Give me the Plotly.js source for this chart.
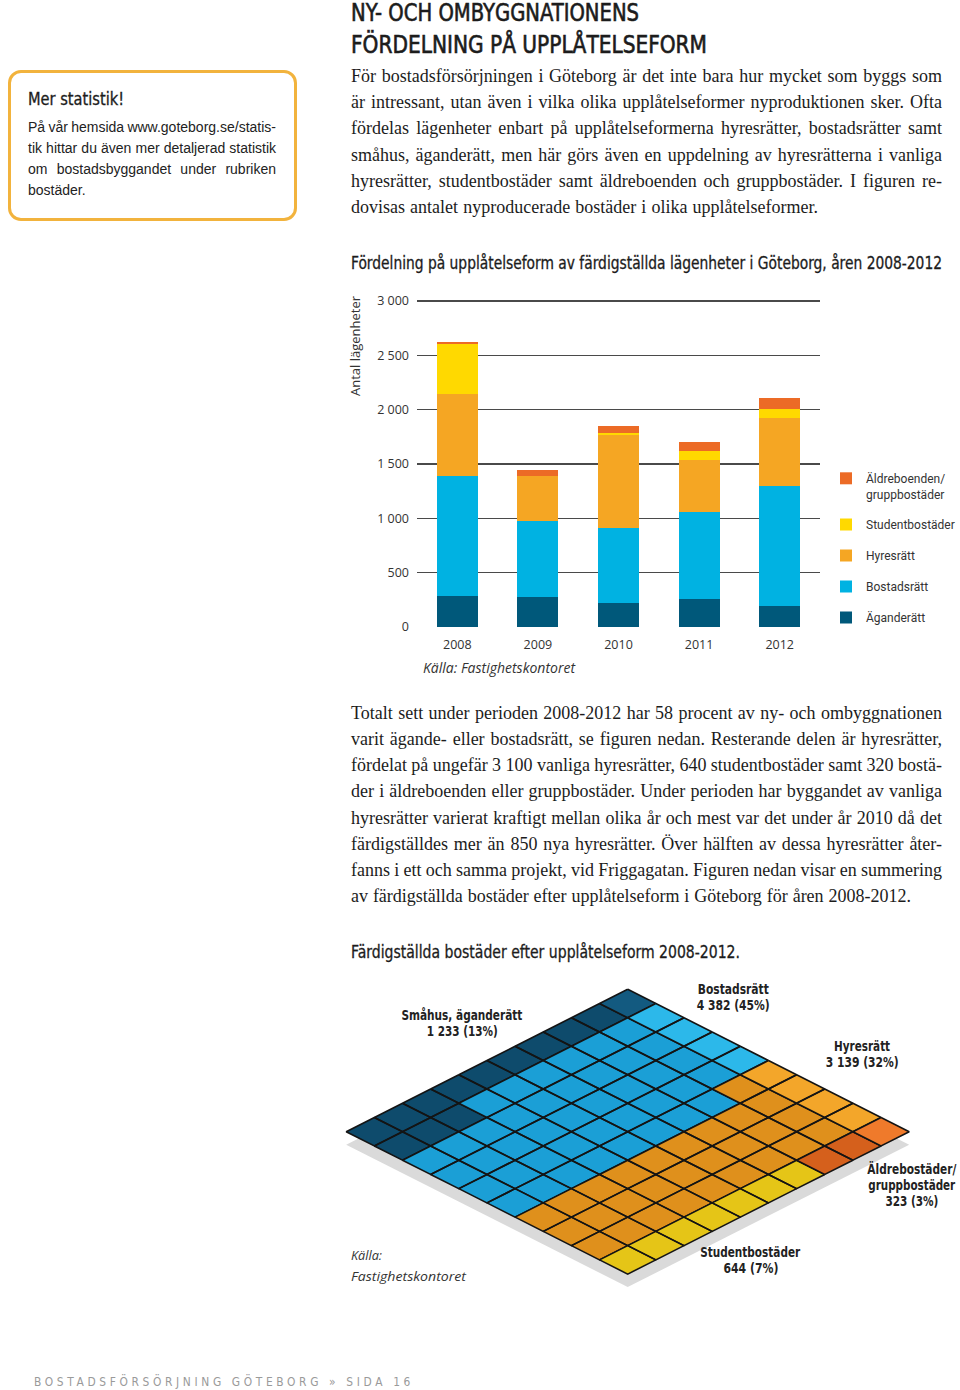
<!DOCTYPE html>
<html><head><meta charset="utf-8">
<script src="https://cdn.plot.ly/plotly-3.0.1.min.js"></script>
<style>
body{margin:0;background:#fff;}
#page{position:relative;width:960px;height:1390px;overflow:hidden;background:#fff;}
#chart{position:absolute;left:0;top:0;width:960px;height:1390px;}
.ln{position:absolute;white-space:nowrap;color:#1c1c1c;}
.serif{font-family:"Liberation Serif","DejaVu Serif",serif;font-size:18px;}
.cond{font-family:"Liberation Sans Narrow","DejaVu Sans Condensed","Roboto Condensed",Roboto,sans-serif;}
.sans{font-family:"Liberation Sans",Arial,sans-serif;font-size:13.5px;}
.ital{font-family:"Open Sans","Noto Sans",sans-serif;font-style:italic;font-size:13.5px;color:#333;}
#box{position:absolute;left:8px;top:70px;width:283px;height:145px;border:3px solid #f2b33d;border-radius:13px;}
</style></head>
<body><div id="page"><div id="chart"></div><div id="box"></div></div>
<script>
// ---------------- data ----------------
const years = ['2008', '2009', '2010', '2011', '2012'];
const aganderatt = [283, 277, 222, 262, 194];
const bostadsratt = [1103, 696, 690, 794, 1103];
const hyresratt = [755, 413, 853, 484, 625];
const studentbostader = [468, 0, 22, 77, 86];
const aldreboenden = [18, 55, 61, 86, 102];
const seriesNames = ['Äganderätt', 'Bostadsrätt', 'Hyresrätt', 'Studentbostäder', 'Äldreboenden/<br>gruppbostäder'];
const barColors = ['#00587a', '#00b2e2', '#f5a623', '#ffd900', '#ec6b26'];

const wafNames = ['Småhus, äganderätt', 'Bostadsrätt', 'Hyresrätt', 'Studentbostäder', 'Äldrebostäder/|gruppbostäder'];
const wafCounts = [1233, 4382, 3139, 644, 323];
const wafPercent = [13, 45, 32, 7, 3];
const wafColors = ['#0e4b6c', '#1b9fd6', '#df901c', '#e5c517', '#d5601c'];
const wafLight = ['#135a80', '#2cb8ea', '#f3a62a', '#f0d11d', '#ef7a2b'];

// ---------------- text ----------------
const heading = ['NY- OCH OMBYGGNATIONENS', 'FÖRDELNING PÅ UPPLÅTELSEFORM'];
const para1 = [
 'För bostadsförsörjningen i Göteborg är det inte bara hur mycket som byggs som',
 'är intressant, utan även i vilka olika upplåtelseformer nyproduktionen sker. Ofta',
 'fördelas lägenheter enbart på upplåtelseformerna hyresrätter, bostadsrätter samt',
 'småhus, äganderätt, men här görs även en uppdelning av hyresrätterna i vanliga',
 'hyresrätter, studentbostäder samt äldreboenden och gruppbostäder. I figuren re-',
 'dovisas antalet nyproducerade bostäder i olika upplåtelseformer.'];
const para2 = [
 'Totalt sett under perioden 2008-2012 har 58 procent av ny- och ombyggnationen',
 'varit ägande- eller bostadsrätt, se figuren nedan. Resterande delen är hyresrätter,',
 'fördelat på ungefär 3 100 vanliga hyresrätter, 640 studentbostäder samt 320 bostä-',
 'der i äldreboenden eller gruppbostäder. Under perioden har byggandet av vanliga',
 'hyresrätter varierat kraftigt mellan olika år och mest var det under år 2010 då det',
 'färdigställdes mer än 850 nya hyresrätter. Över hälften av dessa hyresrätter åter-',
 'fanns i ett och samma projekt, vid Friggagatan. Figuren nedan visar en summering',
 'av färdigställda bostäder efter upplåtelseform i Göteborg för åren 2008-2012.'];
const sideTitle = 'Mer statistik!';
const sideLines = ['På vår hemsida www.goteborg.se/statis-', 'tik hittar du även mer detaljerad statistik', 'om bostadsbyggandet under rubriken', 'bostäder.'];
const chartTitle = 'Fördelning på upplåtelseform av färdigställda lägenheter i Göteborg, åren 2008-2012';
const wafTitle = 'Färdigställda bostäder efter upplåtelseform 2008-2012.';
const footer = 'BOSTADSFÖRSÖRJNING GÖTEBORG  »  SIDA 16';

const page = document.getElementById('page');
function addLine(text, left, cy, lh, cls, mode, target, style) {
  const d = document.createElement('div');
  d.className = 'ln ' + cls; d.textContent = text;
  d.style.left = left + 'px'; d.style.top = (cy - lh / 2) + 'px';
  d.style.lineHeight = lh + 'px'; d.style.height = lh + 'px';
  if (style) Object.assign(d.style, style);
  page.appendChild(d);
  const w = d.getBoundingClientRect().width;
  if (mode === 'ws') {
    const n = (text.match(/ /g) || []).length;
    if (n) d.style.wordSpacing = ((target - w) / n) + 'px';
  } else if (mode === 'fit') {
    d.style.transformOrigin = '0 50%';
    d.style.transform = 'scaleX(' + (target / w) + ')';
  } else if (mode === 'fitc') {
    d.style.left = (left - w / 2) + 'px';
    d.style.transformOrigin = '50% 50%';
    d.style.transform = 'scaleX(' + (target / w) + ')';
  }
}
const medium = {webkitTextStroke: '0.3px #1c1c1c'};
// heading
addLine(heading[0], 351, 13.5, 27, 'cond', 'fit', 288, {fontSize: '24px', webkitTextStroke: '0.6px #1c1c1c'});
addLine(heading[1], 351, 45, 27, 'cond', 'fit', 356, {fontSize: '24px', webkitTextStroke: '0.6px #1c1c1c'});
// paragraph 1
const p1w = [591, 591, 591, 591, 591, 467];
para1.forEach((t, i) => addLine(t, 351, 76 + i * 26.2, 26, 'serif', 'ws', p1w[i]));
// chart title
addLine(chartTitle, 351, 263, 22, 'cond', 'fit', 591, Object.assign({fontSize: '17.5px'}, medium));
// paragraph 2
const p2w = [591, 591, 591, 591, 591, 591, 591, 560];
para2.forEach((t, i) => addLine(t, 351, 713 + i * 26.14, 26, 'serif', 'ws', p2w[i]));
// waffle title
addLine(wafTitle, 351, 952, 22, 'cond', 'fit', 389, Object.assign({fontSize: '17.5px'}, medium));
// sidebar
addLine(sideTitle, 28, 99, 22, 'cond', 'fit', 96, Object.assign({fontSize: '17px'}, medium));
const sw = [248, 248, 248, 64];
sideLines.forEach((t, i) => addLine(t, 28, 127 + i * 21, 21, 'sans', i < 3 ? 'ws' : null, sw[i], {fontSize: '14px', color: '#222'}));
// footer
addLine(footer, 34, 1382, 18, 'cond', 'fit', 380, {fontSize: '13px', letterSpacing: '4px', color: '#9a9a9a'});

// waffle labels (text built from the data arrays)
const fmt = n => String(n).replace(/\B(?=(\d{3})+(?!\d))/g, ' ');
const wafLabelPos = [[462, 1015], [733, 989], [862, 1046], [750.5, 1252], [912, 1169]];
const wafLabelW = [[121, 71], [71, 73], [56, 73], [100, 55], [89, 87, 53]];
wafNames.forEach((nm, i) => {
  const lines = nm.split('|').concat([fmt(wafCounts[i]) + ' (' + wafPercent[i] + '%)']);
  lines.forEach((t, j) => addLine(t, wafLabelPos[i][0], wafLabelPos[i][1] + j * 16, 18, 'cond', 'fitc',
    wafLabelW[i][j], {fontSize: '14.5px', fontWeight: 'bold', color: '#222'}));
});
addLine('Källa:', 351, 1255, 20, 'ital', 'fit', 31);
addLine('Fastighetskontoret', 351, 1276, 20, 'ital', 'fit', 115);

// ---------------- plot ----------------
const W = 960, H = 1390;
const px = x => x / W, py = y => 1 - y / H;
const FONT = '"Open Sans","Noto Sans",sans-serif';

const barSeries = [aganderatt, bostadsratt, hyresratt, studentbostader, aldreboenden];
const traces = [];
barSeries.forEach((v, i) => traces.push({
  type: 'bar', x: years, y: v, name: seriesNames[i], width: 0.51,
  marker: {color: barColors[i], line: {width: 0}}, legendgroup: 'g' + i, legendrank: 10 - i,
  xaxis: 'x', yaxis: 'y', hoverinfo: 'skip'
}));

// waffle (isometric grid: X = a - b, Y = a + b)
const iso = (a, b) => [a - b, a + b];
const shadowDy = 0.91;
{
  const c = [[0, 0], [10, 0], [10, 10], [0, 10], [0, 0]].map(p => iso(p[0], p[1]));
  traces.push({type: 'scatter', mode: 'lines', x: c.map(p => p[0]), y: c.map(p => p[1] + shadowDy),
    fill: 'toself', fillcolor: '#dadada', line: {width: 0, color: '#dadada'},
    xaxis: 'x2', yaxis: 'y2', showlegend: false, hoverinfo: 'skip'});
}
let k = 0;
wafPercent.forEach((n, ci) => {
  const groups = {B: {x: [], y: []}, L: {x: [], y: []}};
  for (let j = 0; j < n; j++, k++) {
    const a = Math.floor(k / 10), b = 9 - (k % 10);
    const g = groups[b === 0 ? 'L' : 'B'];
    [[a, b], [a + 1, b], [a + 1, b + 1], [a, b + 1], [a, b]].forEach(p => {
      const q = iso(p[0], p[1]); g.x.push(q[0]); g.y.push(q[1]);
    });
    g.x.push(null); g.y.push(null);
  }
  ['B', 'L'].forEach(key => {
    if (!groups[key].x.length) return;
    traces.push({type: 'scatter', mode: 'lines', x: groups[key].x, y: groups[key].y,
      fill: 'toself', fillcolor: key === 'L' ? wafLight[ci] : wafColors[ci],
      line: {color: '#141414', width: 1.6}, xaxis: 'x2', yaxis: 'y2',
      showlegend: false, hoverinfo: 'skip'});
  });
});

const topPx = [627.7, 989.3], ux = 28.15, uy = 14.24;
const annotations = [
  {text: 'Antal lägenheter', textangle: -90, x: px(355), y: py(346), xref: 'paper', yref: 'paper',
   xanchor: 'center', yanchor: 'middle', showarrow: false, font: {family: FONT, size: 13, color: '#333'}},
  {text: '<i>Källa: Fastighetskontoret</i>', x: px(421), y: py(667), xref: 'paper', yref: 'paper',
   xanchor: 'left', yanchor: 'middle', showarrow: false, font: {family: FONT, size: 14, color: '#333'}}
];

const layout = {
  width: W, height: H, margin: {l: 0, r: 0, t: 0, b: 0, pad: 0, autoexpand: false},
  paper_bgcolor: 'rgba(0,0,0,0)', plot_bgcolor: 'rgba(0,0,0,0)',
  separators: ', ', barmode: 'stack', showlegend: true,
  xaxis: {domain: [px(417), px(820)], anchor: 'y', type: 'category', showgrid: false, zeroline: false,
    showline: false, ticks: '', ticklabelstandoff: 8, tickfont: {family: FONT, size: 12.5, color: '#333'}},
  yaxis: {domain: [py(627), py(300)], anchor: 'x', range: [0, 3010], tickvals: [0, 500, 1000, 1500, 2000, 2500, 3000],
    tickformat: ',d', showgrid: true, gridcolor: '#4a4a4a', gridwidth: 1.4, zeroline: false, showline: false, ticks: '',
    ticklabelstandoff: 7, tickfont: {family: FONT, size: 12.5, color: '#333'}},
  xaxis2: {domain: [0, 1], anchor: 'y2', range: [-topPx[0] / ux, (W - topPx[0]) / ux], visible: false},
  yaxis2: {domain: [0, 1], anchor: 'x2', range: [(H - topPx[1]) / uy, -topPx[1] / uy], visible: false},
  legend: {x: px(826), y: py(464), xanchor: 'left', yanchor: 'top', traceorder: 'grouped',
    tracegroupgap: 12, valign: 'top', bgcolor: 'rgba(0,0,0,0)',
    font: {family: 'Roboto,"Open Sans",sans-serif', size: 12, color: '#333'}},
  annotations: annotations
};
Plotly.newPlot('chart', traces, layout, {staticPlot: true, displayModeBar: false});
</script>
</body></html>
